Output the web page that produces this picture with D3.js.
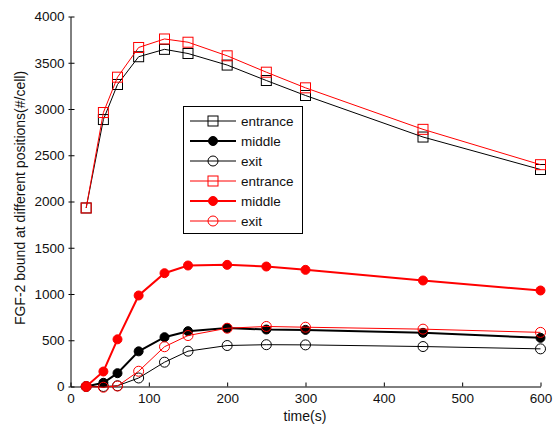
<!DOCTYPE html>
<html><head><meta charset="utf-8">
<script src="https://cdn.jsdelivr.net/npm/d3@7"></script>
<style>body{margin:0;background:#fff}svg{display:block}text{font-family:"Liberation Sans",Arial,sans-serif}</style>
</head><body><svg id="c" width="553" height="430"></svg>
<script>
const times = [20, 42, 60, 87, 120, 150, 200, 250, 300, 450, 600];
const blackEntrance = [1930, 2886, 3265, 3565, 3645, 3600, 3475, 3308, 3146, 2697, 2346];
const blackMiddle   = [0, 40, 144, 380, 533, 598, 632, 616, 612, 580, 526];
const blackExit     = [0, 0, 8, 92, 263, 382, 443, 452, 450, 432, 407];
const redEntrance   = [1930, 2962, 3344, 3665, 3757, 3722, 3575, 3398, 3229, 2780, 2398];
const redMiddle     = [0, 162, 510, 984, 1225, 1308, 1315, 1297, 1261, 1146, 1038];
const redExit       = [0, -8, 5, 165, 430, 551, 630, 649, 641, 620, 585];
const xTicks = [0, 100, 200, 300, 400, 500, 600];
const yTicks = [0, 500, 1000, 1500, 2000, 2500, 3000, 3500, 4000];
const seriesNames = ["entrance", "middle", "exit", "entrance", "middle", "exit"];

const series = [
  {name: seriesNames[0], values: blackEntrance, color: "#000", marker: "square", width: 1},
  {name: seriesNames[1], values: blackMiddle, color: "#000", marker: "dot", width: 2},
  {name: seriesNames[2], values: blackExit, color: "#000", marker: "circle", width: 1},
  {name: seriesNames[3], values: redEntrance, color: "#ff0000", marker: "square", width: 1},
  {name: seriesNames[4], values: redMiddle, color: "#ff0000", marker: "dot", width: 2},
  {name: seriesNames[5], values: redExit, color: "#ff0000", marker: "circle", width: 1}
];

const svg = d3.select("#c");
const x = d3.scaleLinear().domain([0, 600]).range([70.5, 540.5]);
const y = d3.scaleLinear().domain([0, 4000]).range([386.5, 16.5]);
const fmt = d3.format("d");

// axes
const xa = svg.append("g").attr("transform", "translate(0,386.5)")
  .call(d3.axisBottom(x).tickValues(xTicks).tickFormat(fmt).tickSize(-4).tickPadding(7).tickSizeOuter(0));
const ya = svg.append("g").attr("transform", "translate(70.5,0)")
  .call(d3.axisLeft(y).tickValues(yTicks).tickFormat(fmt).tickSize(-4).tickPadding(6).tickSizeOuter(0));
[xa, ya].forEach(a => {
  a.select(".domain").attr("stroke", "#000");
  a.selectAll(".tick line").attr("stroke", "#000");
  a.selectAll("text").attr("fill", "#111").style("font-size", "13.5px").style("font-family", '"Liberation Sans",Arial,sans-serif');
});
ya.selectAll(".tick").append("line").attr("x1", -2).attr("x2", 0).attr("stroke", "#000");

svg.append("text").attr("x", 305).attr("y", 421).attr("text-anchor", "middle")
  .style("font-size", "14px").attr("fill", "#111").text("time(s)");
svg.append("text").attr("transform", "translate(25,198) rotate(-90)").attr("text-anchor", "middle")
  .style("font-size", "14px").attr("fill", "#111").text("FGF-2 bound at different positions(#/cell)");

function drawMarker(g, s, cx, cy) {
  if (s.marker === "square") {
    g.append("rect").attr("x", cx - 5).attr("y", cy - 5).attr("width", 10).attr("height", 10)
      .attr("fill", "none").attr("stroke", s.color).attr("stroke-width", 1);
  } else if (s.marker === "dot") {
    g.append("circle").attr("cx", cx).attr("cy", cy).attr("r", 4.5)
      .attr("fill", s.color).attr("stroke", s.color);
  } else {
    g.append("circle").attr("cx", cx).attr("cy", cy).attr("r", 5)
      .attr("fill", "none").attr("stroke", s.color).attr("stroke-width", 1);
  }
}

const line = d3.line().x(d => x(d[0])).y(d => y(d[1]));
series.forEach(s => {
  const pts = times.map((t, i) => [t, s.values[i]]);
  const g = svg.append("g");
  g.append("path").attr("d", line(pts)).attr("fill", "none").attr("stroke", s.color).attr("stroke-width", s.width);
  pts.forEach(p => drawMarker(g, s, x(p[0]), y(p[1])));
});

// legend
const lg = svg.append("g");
lg.append("rect").attr("x", 183.5).attr("y", 106.5).attr("width", 119).attr("height", 127)
  .attr("fill", "#fff").attr("stroke", "#000").attr("stroke-width", 1);
series.forEach((s, i) => {
  const cy = 121 + i * 20;
  lg.append("line").attr("x1", 190).attr("x2", 236).attr("y1", cy).attr("y2", cy)
    .attr("stroke", s.color).attr("stroke-width", s.width);
  drawMarker(lg, s, 213, cy);
  lg.append("text").attr("x", 241).attr("y", cy + 5).style("font-size", "13.5px").attr("fill", "#111").text(s.name);
});
</script></body></html>
